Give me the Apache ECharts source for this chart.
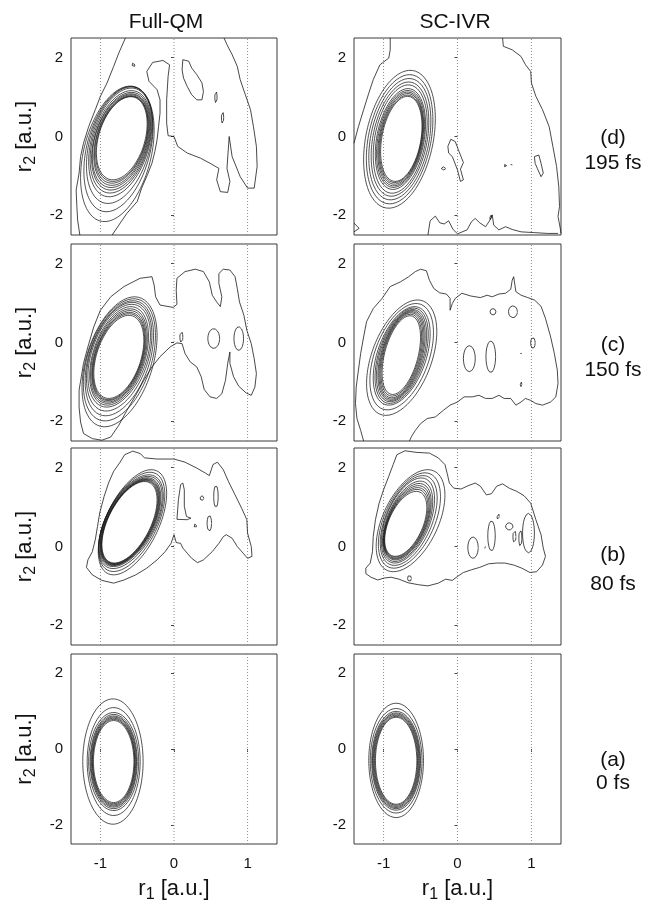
<!DOCTYPE html>
<html>
<head>
<meta charset="utf-8">
<script src="https://cdn.jsdelivr.net/npm/echarts@6/dist/echarts.min.js"></script>
<style>
  html, body { margin: 0; padding: 0; background: #fff; }
  #chart { width: 645px; height: 904px; }
</style>
</head>
<body>
<div id="chart"></div>
<script>
// ---- labels and axis values ----
const methods = ['Full-QM', 'SC-IVR'];
const panelTags = ['(d)', '(c)', '(b)', '(a)'];
const delays = ['195 fs', '150 fs', '80 fs', '0 fs'];
const xTicks = [-1, 0, 1];
const yTicks = [-2, 0, 2];
const guideX = [-1, 0, 1];
const xRange = [-1.4, 1.4];
const yRange = [-2.5, 2.5];

// ---- main wave-packet rings: [centerR1, centerR2, halfWidth, halfHeight, tilt] ----
const ringsQM195 = [
  [-0.71, -0.045, 0.345, 1.055, 0.35], [-0.71, -0.06, 0.355, 1.08, 0.35],
  [-0.715, -0.075, 0.365, 1.11, 0.35], [-0.715, -0.09, 0.375, 1.15, 0.35],
  [-0.72, -0.105, 0.39, 1.19, 0.35], [-0.72, -0.12, 0.40, 1.24, 0.35],
  [-0.725, -0.135, 0.415, 1.30, 0.35], [-0.73, -0.15, 0.43, 1.38, 0.35],
  [-0.74, -0.22, 0.45, 1.48, 0.35], [-0.755, -0.32, 0.47, 1.59, 0.35],
  [-0.77, -0.44, 0.50, 1.72, 0.35]
];
const ringsSC195 = [
  [-0.76, -0.06, 0.28, 1.08, 0.3], [-0.763, -0.06, 0.29, 1.11, 0.3],
  [-0.765, -0.06, 0.30, 1.15, 0.3], [-0.768, -0.062, 0.31, 1.19, 0.3],
  [-0.77, -0.062, 0.325, 1.23, 0.3], [-0.772, -0.064, 0.34, 1.28, 0.3],
  [-0.775, -0.065, 0.365, 1.375, 0.3], [-0.778, -0.066, 0.39, 1.45, 0.3],
  [-0.78, -0.068, 0.42, 1.54, 0.3], [-0.783, -0.07, 0.45, 1.64, 0.3],
  [-0.785, -0.07, 0.485, 1.75, 0.3]
];
const ringsQM150 = [
  [-0.75, -0.365, 0.34, 1.055, 0.4], [-0.75, -0.36, 0.35, 1.09, 0.4],
  [-0.75, -0.355, 0.36, 1.12, 0.4], [-0.748, -0.35, 0.37, 1.16, 0.4],
  [-0.748, -0.345, 0.385, 1.20, 0.4], [-0.746, -0.34, 0.40, 1.25, 0.4],
  [-0.745, -0.335, 0.425, 1.305, 0.4], [-0.745, -0.36, 0.445, 1.38, 0.4],
  [-0.743, -0.40, 0.465, 1.46, 0.4], [-0.742, -0.44, 0.49, 1.55, 0.4],
  [-0.74, -0.49, 0.51, 1.65, 0.4]
];
const ringsSC150 = [
  [-0.76, -0.32, 0.26, 1.00, 0.45], [-0.76, -0.322, 0.275, 1.04, 0.45],
  [-0.759, -0.325, 0.29, 1.08, 0.45], [-0.758, -0.328, 0.305, 1.11, 0.45],
  [-0.757, -0.33, 0.32, 1.14, 0.45], [-0.757, -0.333, 0.34, 1.17, 0.45],
  [-0.756, -0.336, 0.36, 1.21, 0.45], [-0.755, -0.34, 0.385, 1.25, 0.45],
  [-0.755, -0.36, 0.43, 1.35, 0.45], [-0.755, -0.385, 0.475, 1.465, 0.45]
];
const ringsQM80 = [
  [-0.605, 0.615, 0.375, 1.035, 0.55], [-0.603, 0.618, 0.383, 1.05, 0.55],
  [-0.60, 0.62, 0.39, 1.065, 0.55], [-0.598, 0.623, 0.398, 1.08, 0.55],
  [-0.596, 0.626, 0.405, 1.095, 0.55], [-0.594, 0.63, 0.415, 1.115, 0.55],
  [-0.59, 0.635, 0.43, 1.145, 0.55], [-0.585, 0.63, 0.44, 1.19, 0.55],
  [-0.575, 0.625, 0.45, 1.26, 0.55], [-0.565, 0.615, 0.465, 1.335, 0.55]
];
const ringsSC80 = [
  [-0.70, 0.575, 0.285, 0.825, 0.5], [-0.695, 0.59, 0.295, 0.86, 0.5],
  [-0.69, 0.60, 0.305, 0.895, 0.5], [-0.685, 0.615, 0.315, 0.93, 0.5],
  [-0.68, 0.63, 0.325, 0.97, 0.5], [-0.675, 0.64, 0.34, 1.02, 0.5],
  [-0.67, 0.66, 0.36, 1.08, 0.5], [-0.66, 0.66, 0.385, 1.14, 0.5],
  [-0.65, 0.66, 0.42, 1.21, 0.5], [-0.635, 0.655, 0.465, 1.295, 0.5]
];
const ringsQM0 = [
  [-0.82, -0.33, 0.275, 1.08, 0], [-0.82, -0.33, 0.285, 1.11, 0],
  [-0.82, -0.33, 0.29, 1.14, 0], [-0.82, -0.33, 0.30, 1.17, 0],
  [-0.82, -0.33, 0.31, 1.20, 0], [-0.82, -0.33, 0.32, 1.24, 0],
  [-0.82, -0.33, 0.34, 1.29, 0], [-0.82, -0.33, 0.36, 1.42, 0],
  [-0.83, -0.33, 0.41, 1.65, 0]
];
const ringsSC0 = [
  [-0.83, -0.31, 0.28, 1.145, 0], [-0.83, -0.31, 0.29, 1.17, 0],
  [-0.83, -0.31, 0.30, 1.20, 0], [-0.83, -0.31, 0.31, 1.23, 0],
  [-0.83, -0.31, 0.32, 1.26, 0], [-0.83, -0.31, 0.33, 1.30, 0],
  [-0.83, -0.31, 0.35, 1.375, 0], [-0.83, -0.30, 0.37, 1.505, 0]
];

// ---- outer (lowest level) contour lines, [r1, r2] points ----
const qm195Left = [[-0.66,2.5],[-0.75,2.12],[-0.82,1.78],[-0.91,1.36],[-1.0,1.02],[-1.07,0.68],[-1.16,0.25],[-1.23,-0.17],[-1.27,-0.51],[-1.29,-0.93],[-1.33,-1.36],[-1.32,-1.78],[-1.31,-2.12],[-1.28,-2.5]];
const qm195Right = [[-0.84,-2.5],[-0.75,-2.25],[-0.64,-1.95],[-0.50,-1.65],[-0.44,-1.31],[-0.36,-0.97],[-0.30,-0.68],[-0.26,-0.38],[-0.23,-0.08],[-0.21,0.25],[-0.19,0.59],[-0.19,0.93],[-0.23,1.19],[-0.34,1.40],[-0.37,1.65],[-0.29,1.88],[-0.15,1.93],[-0.06,1.82],[-0.08,1.53],[-0.10,0.93],[-0.10,0.34],[-0.08,0.02],[0.0,0.0],[0.05,-0.25],[0.18,-0.42],[0.36,-0.55],[0.49,-0.68],[0.61,-0.81],[0.58,-1.10],[0.63,-1.40],[0.73,-1.42],[0.76,-1.14],[0.72,-0.81],[0.75,0.0],[0.79,-0.51],[0.90,-1.02],[1.0,-1.31],[1.09,-1.31],[1.13,-0.76],[1.12,-0.25],[1.08,0.25],[1.04,0.68],[0.97,1.06],[0.90,1.44],[0.86,1.78],[0.79,2.08],[0.72,2.33],[0.68,2.5]];
const qm195Hole = [[0.12,1.95],[0.20,1.91],[0.24,1.74],[0.31,1.57],[0.38,1.36],[0.40,1.14],[0.38,0.93],[0.31,0.93],[0.24,1.06],[0.18,1.27],[0.13,1.48],[0.11,1.69]];

const sc195Left = [[-0.91,2.5],[-0.91,2.20],[-0.93,1.99],[-1.05,1.82],[-1.14,1.44],[-1.20,1.10],[-1.27,0.68],[-1.34,0.25],[-1.40,-0.17]];
const sc195Right = [[0.61,2.5],[0.62,2.29],[0.74,2.20],[0.86,2.03],[0.92,1.82],[0.99,1.65],[1.00,1.36],[1.06,1.02],[1.15,0.68],[1.24,0.25],[1.29,-0.25],[1.34,-0.76],[1.37,-1.27],[1.38,-1.78],[1.36,-2.03],[1.39,-2.33],[1.40,-2.46]];
const sc195Floor = [[-0.40,-2.5],[-0.37,-2.14],[-0.30,-2.02],[-0.24,-2.19],[-0.18,-2.22],[-0.12,-2.14],[-0.06,-2.36],[0.0,-2.47],[0.13,-2.37],[0.19,-2.16],[0.24,-2.08],[0.30,-2.19],[0.38,-2.29],[0.44,-2.12],[0.47,-1.99],[0.49,-2.25],[0.56,-2.37],[0.65,-2.29],[0.74,-2.36],[0.86,-2.42],[1.04,-2.44],[1.22,-2.46],[1.36,-2.46]];
const sc195Corner = [[-1.40,-2.2],[-1.33,-2.33],[-1.40,-2.42]];
const sc195PatchA = [[-0.13,-0.25],[-0.09,-0.07],[-0.03,-0.13],[0.02,-0.38],[0.08,-0.66],[0.04,-0.83],[0.08,-1.10],[0.04,-1.14],[0.0,-0.85],[-0.07,-0.51],[-0.12,-0.42]];
const sc195PatchB = [[1.04,-0.51],[1.10,-0.47],[1.13,-0.68],[1.16,-0.93],[1.13,-1.02],[1.08,-0.81],[1.05,-0.68]];

const qm150Outer = [[-1.00,0.82],[-0.86,1.16],[-0.68,1.42],[-0.46,1.63],[-0.30,1.67],[-0.27,1.46],[-0.25,1.16],[-0.19,0.95],[-0.01,0.89],[0.04,0.97],[0.03,1.33],[0.04,1.63],[0.15,1.80],[0.29,1.86],[0.40,1.80],[0.48,1.54],[0.52,1.20],[0.58,1.03],[0.63,0.91],[0.65,1.16],[0.61,1.50],[0.61,1.75],[0.67,1.86],[0.76,1.84],[0.83,1.67],[0.86,1.37],[0.89,1.03],[0.95,0.69],[0.99,0.31],[1.05,-0.03],[1.09,-0.41],[1.12,-0.79],[1.10,-1.13],[1.05,-1.34],[0.98,-1.28],[0.88,-1.11],[0.81,-0.87],[0.76,-0.53],[0.76,-0.24],[0.73,-0.53],[0.70,-0.96],[0.65,-1.30],[0.58,-1.42],[0.49,-1.38],[0.41,-1.19],[0.37,-0.87],[0.31,-0.62],[0.22,-0.49],[0.15,-0.28],[0.11,-0.03],[0.04,-0.01],[-0.05,-0.11],[-0.19,-0.36],[-0.30,-0.62],[-0.41,-0.96],[-0.52,-1.34],[-0.64,-1.72],[-0.75,-2.10],[-0.86,-2.40],[-0.98,-2.48],[-1.11,-2.44],[-1.23,-2.31],[-1.27,-2.02],[-1.29,-1.64],[-1.29,-1.21],[-1.26,-0.87],[-1.23,-0.53],[-1.17,-0.11],[-1.09,0.40]];

const sc150Outer = [[-1.27,-2.5],[-1.31,-2.23],[-1.36,-1.93],[-1.38,-1.55],[-1.37,-1.13],[-1.34,-0.70],[-1.31,-0.28],[-1.27,0.14],[-1.23,0.53],[-1.14,0.86],[-1.02,1.12],[-0.91,1.42],[-0.77,1.54],[-0.66,1.67],[-0.57,1.80],[-0.50,1.86],[-0.42,1.82],[-0.38,1.58],[-0.32,1.37],[-0.24,1.26],[-0.15,1.23],[-0.10,1.12],[-0.10,0.82],[-0.07,0.99],[-0.03,1.12],[0.06,1.25],[0.18,1.18],[0.31,1.14],[0.40,1.20],[0.47,1.16],[0.56,1.23],[0.65,1.25],[0.72,1.35],[0.74,1.58],[0.76,1.67],[0.77,1.54],[0.79,1.29],[0.86,1.20],[0.95,1.14],[1.04,1.08],[1.13,0.92],[1.19,0.61],[1.26,0.14],[1.31,-0.28],[1.35,-0.70],[1.36,-1.04],[1.33,-1.38],[1.26,-1.51],[1.15,-1.59],[1.06,-1.55],[0.99,-1.47],[0.92,-1.42],[0.86,-1.51],[0.79,-1.59],[0.72,-1.42],[0.63,-1.42],[0.56,-1.34],[0.47,-1.42],[0.38,-1.42],[0.29,-1.34],[0.20,-1.38],[0.09,-1.38],[0.0,-1.51],[-0.10,-1.59],[-0.19,-1.72],[-0.30,-1.89],[-0.41,-1.93],[-0.50,-2.06],[-0.57,-2.23],[-0.62,-2.38],[-0.65,-2.5]];

const qm80Outer = [[-0.74,2.12],[-0.67,2.33],[-0.56,2.42],[-0.46,2.36],[-0.40,2.25],[-0.23,2.22],[0.0,2.22],[0.15,2.14],[0.31,1.99],[0.43,1.86],[0.48,1.80],[0.53,2.08],[0.59,2.14],[0.67,1.95],[0.74,1.65],[0.83,1.31],[0.92,0.97],[0.99,0.68],[1.0,0.34],[1.05,0.0],[1.06,-0.25],[1.0,-0.30],[0.94,-0.17],[0.86,0.0],[0.79,0.21],[0.71,0.30],[0.67,0.25],[0.61,0.08],[0.52,-0.13],[0.40,-0.34],[0.32,-0.41],[0.24,-0.30],[0.18,-0.17],[0.12,-0.04],[0.09,0.08],[0.03,0.10],[0.0,0.30],[-0.04,0.08],[-0.12,-0.13],[-0.23,-0.34],[-0.37,-0.55],[-0.52,-0.72],[-0.68,-0.85],[-0.82,-0.93],[-0.98,-0.86],[-1.11,-0.72],[-1.19,-0.53],[-1.17,-0.34],[-1.11,-0.13],[-1.07,0.17],[-1.04,0.51],[-1.01,0.85],[-0.95,1.27],[-0.89,1.61],[-0.82,1.91]];
const qm80Patch = [[0.09,1.57],[0.12,1.61],[0.14,1.44],[0.14,1.02],[0.17,0.76],[0.23,0.72],[0.18,0.68],[0.04,0.69],[0.05,0.93],[0.06,1.19],[0.08,1.44]];

const sc80Outer = [[-0.82,2.33],[-0.71,2.43],[-0.56,2.39],[-0.38,2.37],[-0.26,2.25],[-0.17,2.08],[-0.14,1.86],[-0.11,1.61],[-0.05,1.48],[0.05,1.46],[0.14,1.54],[0.24,1.61],[0.31,1.53],[0.39,1.31],[0.46,1.34],[0.53,1.53],[0.61,1.59],[0.70,1.48],[0.80,1.40],[0.90,1.29],[0.99,1.10],[1.06,0.68],[1.13,0.30],[1.16,-0.04],[1.19,-0.25],[1.15,-0.47],[1.07,-0.64],[0.98,-0.66],[0.87,-0.55],[0.76,-0.47],[0.64,-0.42],[0.53,-0.42],[0.42,-0.44],[0.30,-0.53],[0.19,-0.59],[0.08,-0.66],[0.0,-0.76],[-0.07,-0.86],[-0.16,-0.83],[-0.26,-0.93],[-0.40,-1.0],[-0.53,-0.97],[-0.67,-0.92],[-0.79,-0.83],[-0.90,-0.78],[-0.99,-0.80],[-1.08,-0.85],[-1.17,-0.78],[-1.24,-0.69],[-1.24,-0.55],[-1.18,-0.42],[-1.15,-0.13],[-1.14,0.25],[-1.11,0.68],[-1.06,1.10],[-1.0,1.44],[-0.93,1.78],[-0.87,2.08]];

// ---- small closed islands: [centerR1, centerR2, halfWidth, halfHeight] ----
const islandsQM195 = [[0.57,1.0,0.015,0.15],[0.66,0.48,0.015,0.15],[-0.55,1.82,0.02,0.05]];
const islandsSC195 = [[-0.19,-0.81,0.03,0.04],[0.65,-0.74,0.015,0.05],[0.73,-0.72,0.012,0.03],[0.45,-2.05,0.012,0.07]];
const islandsQM150 = [[0.10,0.14,0.02,0.14],[0.54,0.10,0.08,0.25],[0.88,0.10,0.065,0.30]];
const islandsSC150 = [[0.48,0.78,0.04,0.08],[0.75,0.78,0.06,0.15],[0.16,-0.41,0.08,0.33],[0.45,-0.36,0.065,0.40],[1.02,-0.01,0.03,0.14],[0.86,-0.28,0.01,0.02],[0.86,-1.06,0.01,0.06]];
const islandsQM80 = [[0.29,0.53,0.02,0.04],[0.38,1.23,0.025,0.06],[0.48,0.59,0.03,0.2],[0.57,1.27,0.03,0.28]];
const islandsSC80 = [[0.21,-0.03,0.07,0.27],[0.37,0.0,0.008,0.05],[0.46,0.27,0.05,0.38],[0.70,0.51,0.05,0.09],[0.77,0.25,0.02,0.16],[0.85,0.21,0.02,0.2],[0.96,0.34,0.08,0.5],[0.55,0.76,0.015,0.08],[-0.65,-0.81,0.025,0.08]];

// ---- geometry helpers ----
const close = pts => pts.concat([pts[0]]);

// tilted ellipse spanning +-halfWidth in r1 and +-halfHeight in r2 around its centre
function ringPath(r) {
  const cx = r[0], cy = r[1], hw = r[2], hh = r[3], rho = r[4] || 0;
  const q = Math.sqrt(1 - rho * rho);
  const pts = [];
  for (let i = 0; i <= 120; i++) {
    const t = i / 120 * 2 * Math.PI;
    pts.push([cx + hw * Math.cos(t), cy + hh * (rho * Math.cos(t) + q * Math.sin(t))]);
  }
  return pts;
}
const islandPath = e => ringPath([e[0], e[1], e[2], e[3], 0]);

const panels = [
  { row: 0, col: 0, rings: ringsQM195, lines: [qm195Left, qm195Right, close(qm195Hole)], islands: islandsQM195 },
  { row: 0, col: 1, rings: ringsSC195, lines: [sc195Left, sc195Right, sc195Floor, sc195Corner, close(sc195PatchA), close(sc195PatchB)], islands: islandsSC195 },
  { row: 1, col: 0, rings: ringsQM150, lines: [close(qm150Outer)], islands: islandsQM150 },
  { row: 1, col: 1, rings: ringsSC150, lines: [sc150Outer], islands: islandsSC150 },
  { row: 2, col: 0, rings: ringsQM80, lines: [close(qm80Outer), close(qm80Patch)], islands: islandsQM80 },
  { row: 2, col: 1, rings: ringsSC80, lines: [close(sc80Outer)], islands: islandsSC80 },
  { row: 3, col: 0, rings: ringsQM0, lines: [], islands: [] },
  { row: 3, col: 1, rings: ringsSC0, lines: [], islands: [] }
];

// ---- layout ----
const FONT = '"Liberation Sans", Arial, Helvetica, sans-serif';
const colLeft = [71, 354], colWidth = [206, 207];
const rowTop = [38, 244, 448, 654], rowHeight = 197;
const INK = '#1a1a1a';

const nameStyle = {
  fontFamily: FONT, fontSize: 22, color: '#111',
  rich: {
    v: { fontFamily: FONT, fontSize: 22, color: '#111' },
    s: { fontFamily: FONT, fontSize: 16, color: '#111', verticalAlign: 'bottom', padding: [12, 0, 0, 0] }
  }
};

const grids = [], xAxes = [], yAxes = [], series = [];
panels.forEach((p, k) => {
  const isBottom = p.row === 3, isLeft = p.col === 0;
  grids.push({
    left: colLeft[p.col], top: rowTop[p.row], width: colWidth[p.col], height: rowHeight,
    show: true, borderColor: '#3a3a3a', borderWidth: 1, backgroundColor: 'transparent'
  });
  xAxes.push({
    gridIndex: k, type: 'value', min: xRange[0], max: xRange[1],
    axisLine: { show: false }, splitLine: { show: false },
    axisTick: { show: isBottom, customValues: xTicks, length: 3, lineStyle: { color: '#444' } },
    axisLabel: { show: isBottom, customValues: xTicks, margin: 12, fontSize: 15, color: '#111', fontFamily: FONT },
    name: isBottom ? '{v|r}{s|1}{v| [a.u.]}' : '',
    nameLocation: 'middle', nameGap: 31, nameTextStyle: nameStyle
  });
  yAxes.push({
    gridIndex: k, type: 'value', min: yRange[0], max: yRange[1],
    axisLine: { show: false }, splitLine: { show: false },
    axisTick: { show: true, customValues: yTicks, length: 3, lineStyle: { color: '#444' } },
    axisLabel: { show: true, customValues: yTicks, margin: 8, fontSize: 15, color: '#111', fontFamily: FONT },
    name: isLeft ? '{v|r}{s|2}{v| [a.u.]}' : '',
    nameLocation: 'middle', nameGap: 32, nameTextStyle: nameStyle
  });

  const base = { type: 'line', xAxisIndex: k, yAxisIndex: k, symbol: 'none', silent: true, animation: false };
  guideX.forEach(g => series.push(Object.assign({}, base, {
    data: [[g, yRange[0]], [g, yRange[1]]], z: 1,
    lineStyle: { color: '#8c8c8c', width: 1, type: [1, 2] }
  })));
  p.lines.forEach(pts => series.push(Object.assign({}, base, {
    data: pts, z: 2, lineStyle: { color: INK, width: 0.8 }
  })));
  p.islands.forEach(e => series.push(Object.assign({}, base, {
    data: islandPath(e), z: 2, lineStyle: { color: INK, width: 0.8 }
  })));
  p.rings.forEach(r => series.push(Object.assign({}, base, {
    data: ringPath(r), z: 3, lineStyle: { color: INK, width: 0.75 }
  })));
});

// ---- column titles and time labels ----
const textEl = (x, y, text) => ({
  type: 'text', x: x, y: y,
  style: { text: text, font: '21px ' + FONT, textAlign: 'center', textVerticalAlign: 'middle', fill: '#111' }
});
const titleX = [166, 455];
const tagY = [138, 345, 555, 760], delayY = [163, 370, 584, 783];
const graphics = [textEl(titleX[0], 22, methods[0]), textEl(titleX[1], 22, methods[1])];
panelTags.forEach((t, i) => {
  graphics.push(textEl(613, tagY[i], t));
  graphics.push(textEl(613, delayY[i], delays[i]));
});

const chart = echarts.init(document.getElementById('chart'), null, { renderer: 'canvas' });
chart.setOption({
  backgroundColor: '#fff',
  animation: false,
  grid: grids,
  xAxis: xAxes,
  yAxis: yAxes,
  series: series,
  graphic: graphics
});
</script>
</body>
</html>
